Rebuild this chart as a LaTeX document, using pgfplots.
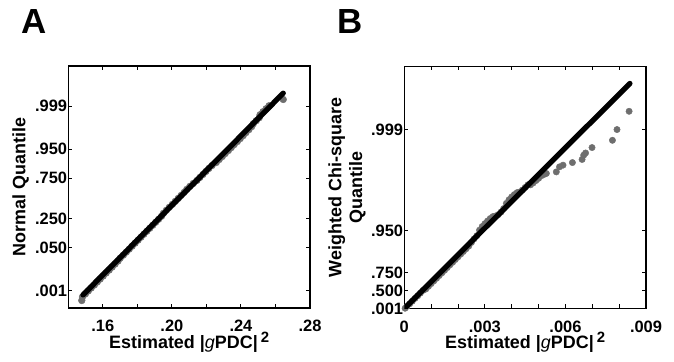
\documentclass[border=0pt]{standalone}
\usepackage{pgfplots}
\pgfplotsset{compat=1.18}
\usepackage{fontspec}
\setmainfont{Liberation Sans}
\definecolor{ptgray}{HTML}{6E6E6E}
\newcommand{\xlab}{Estimated |{\fontseries{m}\itshape g}PDC|\,\raisebox{6bp}{\fontsize{15}{15}\selectfont 2}}
\begin{document}
\begin{tikzpicture}
\useasboundingbox (0,0) rectangle (674bp,362bp);
\node[anchor=base west,inner sep=0,font=\bfseries\fontsize{35}{35}\selectfont] at (21.7bp,328.7bp) {A};
\node[anchor=base west,inner sep=0,font=\bfseries\fontsize{35}{35}\selectfont] at (337bp,328.7bp) {B};
\pgfplotsset{myax/.style={
  scale only axis, width=241.7bp, height=242bp,
  clip mode=individual,
  tick align=inside, major tick length=4bp,
  every tick/.style={black, line width=1bp},
  axis line style={line width=1.3bp},
  scaled ticks=false,
  ticklabel style={font=\bfseries\fontsize{16.5}{17}\selectfont, inner sep=1bp},
  xticklabel style={yshift=-11bp},
  label style={font=\bfseries\fontsize{18}{21}\selectfont},
  xlabel style={at={(axis description cs:0.5,-0.1665)}, anchor=base},
}}
% ---------------- Panel A ----------------
\begin{axis}[myax,
  at={(68.3bp,54bp)}, anchor=south west,
  xmin=0.14, xmax=0.28, ymin=-3.67, ymax=4.43,
  xtick={0.16,0.18,0.20,0.22,0.24,0.26,0.28},
  xticklabels={\textbf{.16},,\textbf{.20},,\textbf{.24},,\textbf{.28}},
  ytick={-3.090,-1.645,-0.674,0.674,1.645,3.090},
  yticklabels={\textbf{.001},\textbf{.050},\textbf{.250},\textbf{.750},\textbf{.950},\textbf{.999}},
  ylabel={Normal Quantile},
  ylabel style={at={(axis description cs:-0.197,0.5)}, anchor=center},
  xlabel={\xlab},
]
\addplot[only marks, mark=*, mark size=3.4bp, color=ptgray] coordinates {
(0.1478,-3.42) (0.1482,-3.3) (0.1499,-3.2) (0.1516,-3.1) (0.1533,-3.0)
(0.1551,-2.9) (0.1568,-2.8) (0.1585,-2.7) (0.1602,-2.6) (0.1619,-2.5)
(0.1637,-2.4) (0.1654,-2.3) (0.1671,-2.2) (0.1688,-2.1) (0.1701,-2.0)
(0.1719,-1.9) (0.1736,-1.8) (0.1753,-1.7) (0.1770,-1.6) (0.1787,-1.5)
(0.1804,-1.4) (0.1821,-1.3) (0.1838,-1.2) (0.1855,-1.1) (0.1872,-1.0)
(0.1889,-0.9) (0.1906,-0.8) (0.1923,-0.7) (0.1940,-0.6) (0.1951,-0.5)
(0.1968,-0.4) (0.1985,-0.3) (0.2003,-0.2) (0.2020,-0.1) (0.2037,0.0)
(0.2054,0.1) (0.2071,0.2) (0.2086,0.3) (0.2104,0.4) (0.2124,0.5)
(0.2145,0.6) (0.2162,0.7) (0.2180,0.8) (0.2197,0.9) (0.2214,1.0)
(0.2233,1.1) (0.2257,1.2) (0.2274,1.3) (0.2292,1.4) (0.2309,1.5)
(0.2327,1.6) (0.2344,1.7) (0.2361,1.8) (0.2379,1.9) (0.2396,2.0)
(0.2413,2.1) (0.2429,2.2) (0.2446,2.3) (0.2462,2.4) (0.2472,2.5)
(0.2489,2.6) (0.2506,2.7) (0.2511,2.8) (0.2528,2.9) (0.2546,3.0)
(0.2563,3.1) (0.2645,3.31)
};
\addplot[black, line width=5.3bp, line cap=round] coordinates {(0.1485,-3.23) (0.2645,3.52)};
\end{axis}
% ---------------- Panel B ----------------
\begin{axis}[myax,
  at={(404.3bp,53.5bp)}, anchor=south west,
  xmin=0, xmax=0.009, ymin=0, ymax=18.69,
  xtick={0,0.001,0.002,0.003,0.004,0.005,0.006,0.007,0.008,0.009},
  xticklabels={\textbf{0},,,\textbf{.003},,,\textbf{.006},,,\textbf{.009}},
  ytick={0.002,1.386,2.773,5.991,13.816},
  yticklabels={\textbf{.001},\textbf{.500},\textbf{.750},\textbf{.950},\textbf{.999}},
  ylabel={Weighted Chi-square\\Quantile},
  ylabel style={at={(axis description cs:-0.237,0.5)}, anchor=center, align=center},
  xlabel={\xlab},
]
\addplot[only marks, mark=*, mark size=3.2bp, color=ptgray] coordinates {
(0.00003,0.02) (0.0001,0.16) (0.0002,0.36) (0.0003,0.57) (0.0004,0.78)
(0.0005,0.98) (0.0006,1.19) (0.0007,1.40) (0.0008,1.50) (0.0009,1.71)
(0.0010,1.92) (0.0011,2.13) (0.0012,2.33) (0.0013,2.54) (0.0014,2.75)
(0.0015,2.95) (0.0016,3.16) (0.0017,3.37) (0.0018,3.57) (0.0019,3.78)
(0.0020,3.99) (0.0021,4.20) (0.0022,4.40) (0.0023,4.61) (0.0024,4.82)
(0.0025,5.10) (0.0026,5.38) (0.0027,5.62) (0.0028,6.05) (0.0029,6.33)
(0.0030,6.55) (0.0031,6.76) (0.0032,6.95) (0.0033,7.10) (0.0034,7.15)
(0.0035,7.25) (0.0036,7.45) (0.0037,7.72) (0.0038,8.12) (0.0039,8.40)
(0.0040,8.62) (0.0041,8.80) (0.0042,8.95) (0.0043,9.00) (0.0044,9.15)
(0.0045,9.35) (0.0046,9.55) (0.0047,9.55) (0.0048,9.70) (0.0049,9.88)
(0.0050,10.05) (0.0051,10.25) (0.0052,10.35) (0.00529,10.43)
(0.00566,10.55) (0.00578,10.94) (0.00591,11.07) (0.00626,11.27)
(0.00662,11.51) (0.00668,11.84) (0.00675,12.01) (0.00699,12.43)
(0.00775,12.99) (0.00792,13.82) (0.00837,15.23)
};
\addplot[black, line width=5.3bp, line cap=round] coordinates {(0,0) (0.0084,17.38)};
\end{axis}
\end{tikzpicture}
\end{document}
